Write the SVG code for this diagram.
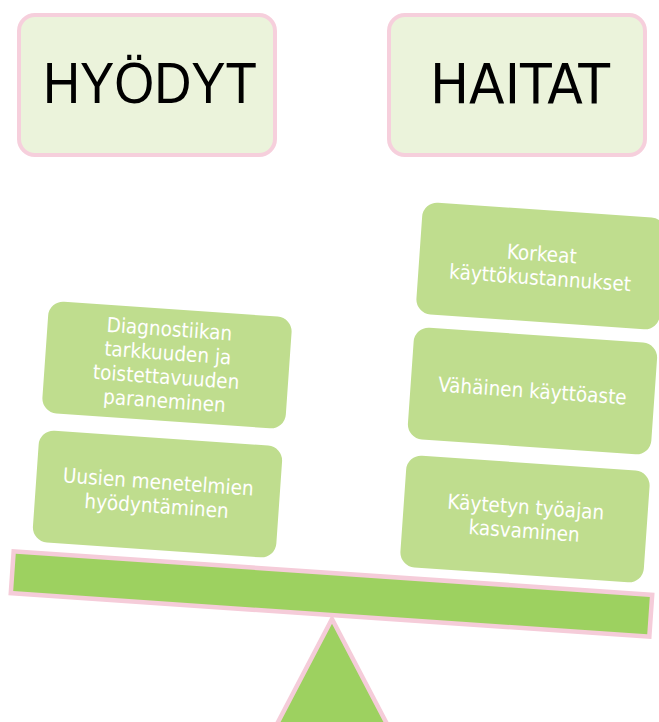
<svg xmlns="http://www.w3.org/2000/svg" width="659" height="722" viewBox="0 0 659 722">
<style>
.hdr{fill:#ebf3db;stroke:#f6cfdc;stroke-width:4}
.card{fill:#bfdd8e}
.ct{font-family:"DejaVu Sans Condensed","DejaVu Sans",sans-serif;font-size:20.5px;fill:#ffffff;text-anchor:middle}
.pink{stroke:#f5ccd9;stroke-width:4.5;fill:#9dd160;stroke-linejoin:miter}
</style>
<rect width="659" height="722" fill="#ffffff"/>
<g id="hyodyt">
<rect class="hdr" x="19" y="15" width="256" height="140" rx="16"/>
<text x="150" y="103" font-family="'Liberation Sans',Arial,sans-serif" font-size="57" text-anchor="middle" fill="#000" textLength="214" lengthAdjust="spacingAndGlyphs">HYÖDYT</text>
</g>
<g id="haitat">
<rect class="hdr" x="389" y="15" width="256" height="140" rx="16"/>
<text x="520" y="103" font-family="'DejaVu Sans Condensed','DejaVu Sans',sans-serif" font-size="56" text-anchor="middle" fill="#000" textLength="180" lengthAdjust="spacingAndGlyphs">HAITAT</text>
</g>
<g id="connectors"/>
<g id="fulcrum">
<polygon class="pink" points="332,619 266,745 398,745"/>
</g>
<g id="beam" transform="translate(331.5,594) rotate(3.9)">
<rect class="pink" x="-320" y="-21" width="640" height="42"/>
</g>
<g id="diagnostiikka" transform="translate(167,365) rotate(4)">
<rect class="card" x="-122" y="-56" width="244" height="112" rx="15"/>
<text class="ct"><tspan x="0" y="-29">Diagnostiikan</tspan><tspan x="0" y="-5">tarkkuuden ja</tspan><tspan x="0" y="19">toistettavuuden</tspan><tspan x="0" y="43">paraneminen</tspan></text>
</g>
<g id="uusien" transform="translate(157.5,494) rotate(4)">
<rect class="card" x="-122" y="-56" width="244" height="112" rx="15"/>
<text class="ct"><tspan x="0" y="-5">Uusien menetelmien</tspan><tspan x="0" y="19">hyödyntäminen</tspan></text>
</g>
<g id="korkeat" transform="translate(541,266) rotate(4)">
<rect class="card" x="-122" y="-56" width="244" height="112" rx="15"/>
<text class="ct"><tspan x="0" y="-5">Korkeat</tspan><tspan x="0" y="19">käyttökustannukset</tspan></text>
</g>
<g id="vahainen" transform="translate(532.5,391) rotate(4)">
<rect class="card" x="-122" y="-56" width="244" height="112" rx="15"/>
<text class="ct"><tspan x="0" y="7">Vähäinen käyttöaste</tspan></text>
</g>
<g id="kaytetyn" transform="translate(525,519) rotate(4)">
<rect class="card" x="-122" y="-56" width="244" height="112" rx="15"/>
<text class="ct"><tspan x="0" y="-5">Käytetyn työajan</tspan><tspan x="0" y="19">kasvaminen</tspan></text>
</g>
</svg>
